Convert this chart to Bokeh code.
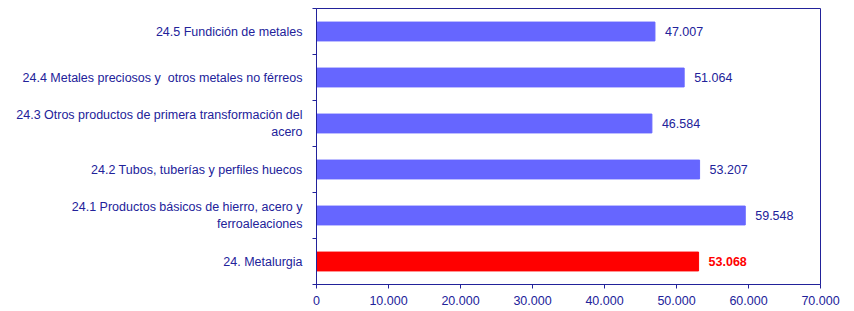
from bokeh.plotting import figure
from bokeh.models import FixedTicker, Range1d, ColumnDataSource
from bokeh.core.properties import value
from bokeh.embed import file_html
from bokeh.resources import INLINE

categories = [
    "24. Metalurgia",
    "24.1 Productos básicos de hierro, acero y\nferroaleaciones",
    "24.2 Tubos, tuberías y perfiles huecos",
    "24.3 Otros productos de primera transformación del\nacero",
    "24.4 Metales preciosos y \u00a0otros metales no férreos",
    "24.5 Fundición de metales",
]
values = [53068, 59548, 53207, 46584, 51064, 47007]
value_labels = ["53.068", "59.548", "53.207", "46.584", "51.064", "47.007"]
x_ticks = [0, 10000, 20000, 30000, 40000, 50000, 60000, 70000]
x_tick_labels = ["0", "10.000", "20.000", "30.000", "40.000", "50.000", "60.000", "70.000"]

NAVY = "#22229a"
BLUE_BAR = "#6666ff"
RED = "#ff0000"
FONT = "Liberation Sans"
FS = "12.5px"

n = len(categories)
centers = [i + 0.5 for i in range(n)]
bounds = [float(i) for i in range(n + 1)]
bar_colors = [RED] + [BLUE_BAR] * (n - 1)
text_colors = [RED] + [NAVY] * (n - 1)
text_styles = ["bold"] + ["normal"] * (n - 1)

src = ColumnDataSource(dict(y=centers, v=values, lab=value_labels,
                            bc=bar_colors, tc=text_colors, ts=text_styles))

p = figure(width=846, height=307, output_backend="svg", toolbar_location=None,
           x_range=Range1d(0, 70000), y_range=Range1d(0, n),
           min_border_left=316, min_border_right=26, min_border_top=8,
           min_border_bottom=0)

p.hbar(y="y", left=0, right="v", height=0.41, fill_color="bc", line_color="bc",
       source=src)
p.text(x="v", y="y", text="lab", x_offset=10, text_baseline="middle",
       text_align="left", text_color="tc", text_font_style="ts",
       text_font=value(FONT), text_font_size=FS, source=src)

p.xgrid.visible = False
p.ygrid.visible = False
p.outline_line_color = NAVY
p.outline_line_width = 1
p.background_fill_color = "white"
p.border_fill_color = "white"

xa = p.xaxis[0]
xa.ticker = FixedTicker(ticks=x_ticks)
xa.major_label_overrides = {t: l for t, l in zip(x_ticks, x_tick_labels)}
xa.axis_line_color = NAVY
xa.major_tick_line_color = NAVY
xa.major_tick_in = 0
xa.major_tick_out = 4
xa.minor_tick_line_color = None
xa.major_label_standoff = 7
xa.major_label_text_color = NAVY
xa.major_label_text_font = FONT
xa.major_label_text_font_size = FS

ya = p.yaxis[0]
ya.ticker = FixedTicker(ticks=centers, minor_ticks=bounds)
ya.major_label_overrides = {c: l for c, l in zip(centers, categories)}
ya.axis_line_color = NAVY
ya.major_tick_line_color = None
ya.major_tick_in = 0
ya.major_tick_out = 0
ya.minor_tick_line_color = NAVY
ya.minor_tick_in = 0
ya.minor_tick_out = 4
ya.major_label_standoff = 10
ya.major_label_text_color = NAVY
ya.major_label_text_font = FONT
ya.major_label_text_font_size = FS

open("out.html", "w").write(file_html(p, INLINE))
